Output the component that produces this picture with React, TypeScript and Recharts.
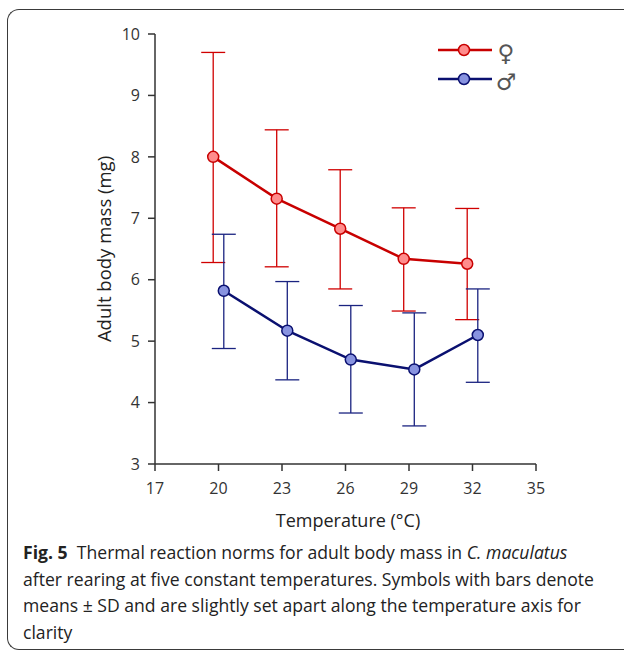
import React from 'react';
import { LineChart, Line, XAxis, YAxis, ErrorBar } from 'recharts';

// temperatures (°C) and adult body mass (mg)
const temperatures = [20, 23, 26, 29, 32];
const femaleMean = [8.0, 7.32, 6.83, 6.34, 6.26];
const femaleUpper = [9.7, 8.44, 7.79, 7.17, 7.16];
const femaleLower = [6.28, 6.21, 5.85, 5.49, 5.35];
const maleMean = [5.82, 5.17, 4.7, 4.54, 5.1];
const maleUpper = [6.74, 5.97, 5.58, 5.46, 5.85];
const maleLower = [4.88, 4.37, 3.83, 3.62, 4.33];

const xTicks = [17, 20, 23, 26, 29, 32, 35];
const yTicks = [3, 4, 5, 6, 7, 8, 9, 10];

// symbols are shifted a little apart along the x axis
const SHIFT = 0.25;

const build = (mean: number[], lo: number[], hi: number[], dx: number) =>
  temperatures.map((t, i) => ({
    x: t + dx,
    mean: mean[i],
    sd: [mean[i] - lo[i], hi[i] - mean[i]],
  }));

const femaleData = build(femaleMean, femaleLower, femaleUpper, -SHIFT);
const maleData = build(maleMean, maleLower, maleUpper, SHIFT);

const FONT = '"Open Sans", "Noto Sans", sans-serif';
const AXIS = '#333';
const RED = '#c80000';
const BLUE = '#0a1070';

const LegendRow: React.FC<{ color: string; fill: string; symbol: string; top: number }> = ({ color, fill, symbol, top }) => (
  <>
    <svg style={{ position: 'absolute', left: 436, top: top - 8 }} width={58} height={16}>
      <line x1={2} y1={8} x2={56} y2={8} stroke={color} strokeWidth={2.5} />
      <circle cx={28} cy={8} r={5.5} fill={fill} stroke={color} strokeWidth={1.5} />
    </svg>
    <div
      style={{
        position: 'absolute', left: 506, top: top + 3, transform: 'translate(-50%, -50%)',
        fontFamily: '"DejaVu Sans", sans-serif', fontSize: 23, color: '#555', lineHeight: 1,
      }}
    >
      {symbol}
    </div>
  </>
);

export default function App() {
  return (
    <div style={{ position: 'absolute', left: 0, top: 0, width: 624, height: 651, background: '#fff', overflow: 'hidden' }}>
      <div
        style={{
          position: 'absolute', left: 7, top: 9, width: 640, height: 639,
          border: '1.5px solid #3a3a3a', borderRight: 'none',
          borderTopLeftRadius: 12, borderBottomLeftRadius: 12,
        }}
      />
      <div style={{ position: 'absolute', left: 0, top: 0 }}>
        <LineChart width={624} height={500} margin={{ top: 34, right: 88, left: 95, bottom: 6 }}>
          <XAxis
            dataKey="x" type="number" domain={[17, 35]} ticks={xTicks} interval={0}
            height={30} tickSize={7} tickMargin={12}
            axisLine={{ stroke: AXIS, strokeWidth: 1.5 }} tickLine={{ stroke: AXIS, strokeWidth: 1.5 }}
            tick={{ fill: AXIS, fontSize: 16, fontFamily: FONT }}
          />
          <YAxis
            type="number" domain={[3, 10]} ticks={yTicks} interval={0}
            width={60} tickSize={7} tickMargin={8}
            axisLine={{ stroke: AXIS, strokeWidth: 1.5 }} tickLine={{ stroke: AXIS, strokeWidth: 1.5 }}
            tick={{ fill: AXIS, fontSize: 16, fontFamily: FONT }}
          />
          <Line
            data={femaleData} dataKey="mean" type="linear" stroke={RED} strokeWidth={2.5}
            dot={{ r: 5.5, fill: '#ff8c8c', stroke: RED, strokeWidth: 1.5 }} activeDot={false}
            isAnimationActive={false}
          >
            <ErrorBar dataKey="sd" direction="y" width={12} stroke="#d00000" strokeWidth={1.3} />
          </Line>
          <Line
            data={maleData} dataKey="mean" type="linear" stroke={BLUE} strokeWidth={2.5}
            dot={{ r: 5.5, fill: '#8893e0', stroke: BLUE, strokeWidth: 1.5 }} activeDot={false}
            isAnimationActive={false}
          >
            <ErrorBar dataKey="sd" direction="y" width={12} stroke="#1a2380" strokeWidth={1.3} />
          </Line>
        </LineChart>
      </div>

      <LegendRow color={RED} fill="#ff8c8c" symbol="♀" top={50} />
      <LegendRow color={BLUE} fill="#8893e0" symbol="♂" top={79} />

      <div
        style={{
          position: 'absolute', left: 103, top: 249, transform: 'translate(-50%, -50%) rotate(-90deg)',
          fontFamily: FONT, fontSize: 18.5, color: '#222', whiteSpace: 'nowrap',
        }}
      >
        Adult body mass (mg)
      </div>
      <div
        style={{
          position: 'absolute', left: 348, top: 520, transform: 'translate(-50%, -50%)',
          fontFamily: FONT, fontSize: 18, color: '#222', whiteSpace: 'nowrap',
        }}
      >
        Temperature (°C)
      </div>

      <div style={{ position: 'absolute', left: 23, top: 539, fontFamily: FONT, fontSize: 17.6, color: '#222', lineHeight: '26.5px', whiteSpace: 'nowrap' }}>
        <div><b>Fig. 5</b>&nbsp; Thermal reaction norms for adult body mass in <i>C. maculatus</i></div>
        <div>after rearing at five constant temperatures. Symbols with bars denote</div>
        <div>means ± SD and are slightly set apart along the temperature axis for</div>
        <div>clarity</div>
      </div>
    </div>
  );
}
